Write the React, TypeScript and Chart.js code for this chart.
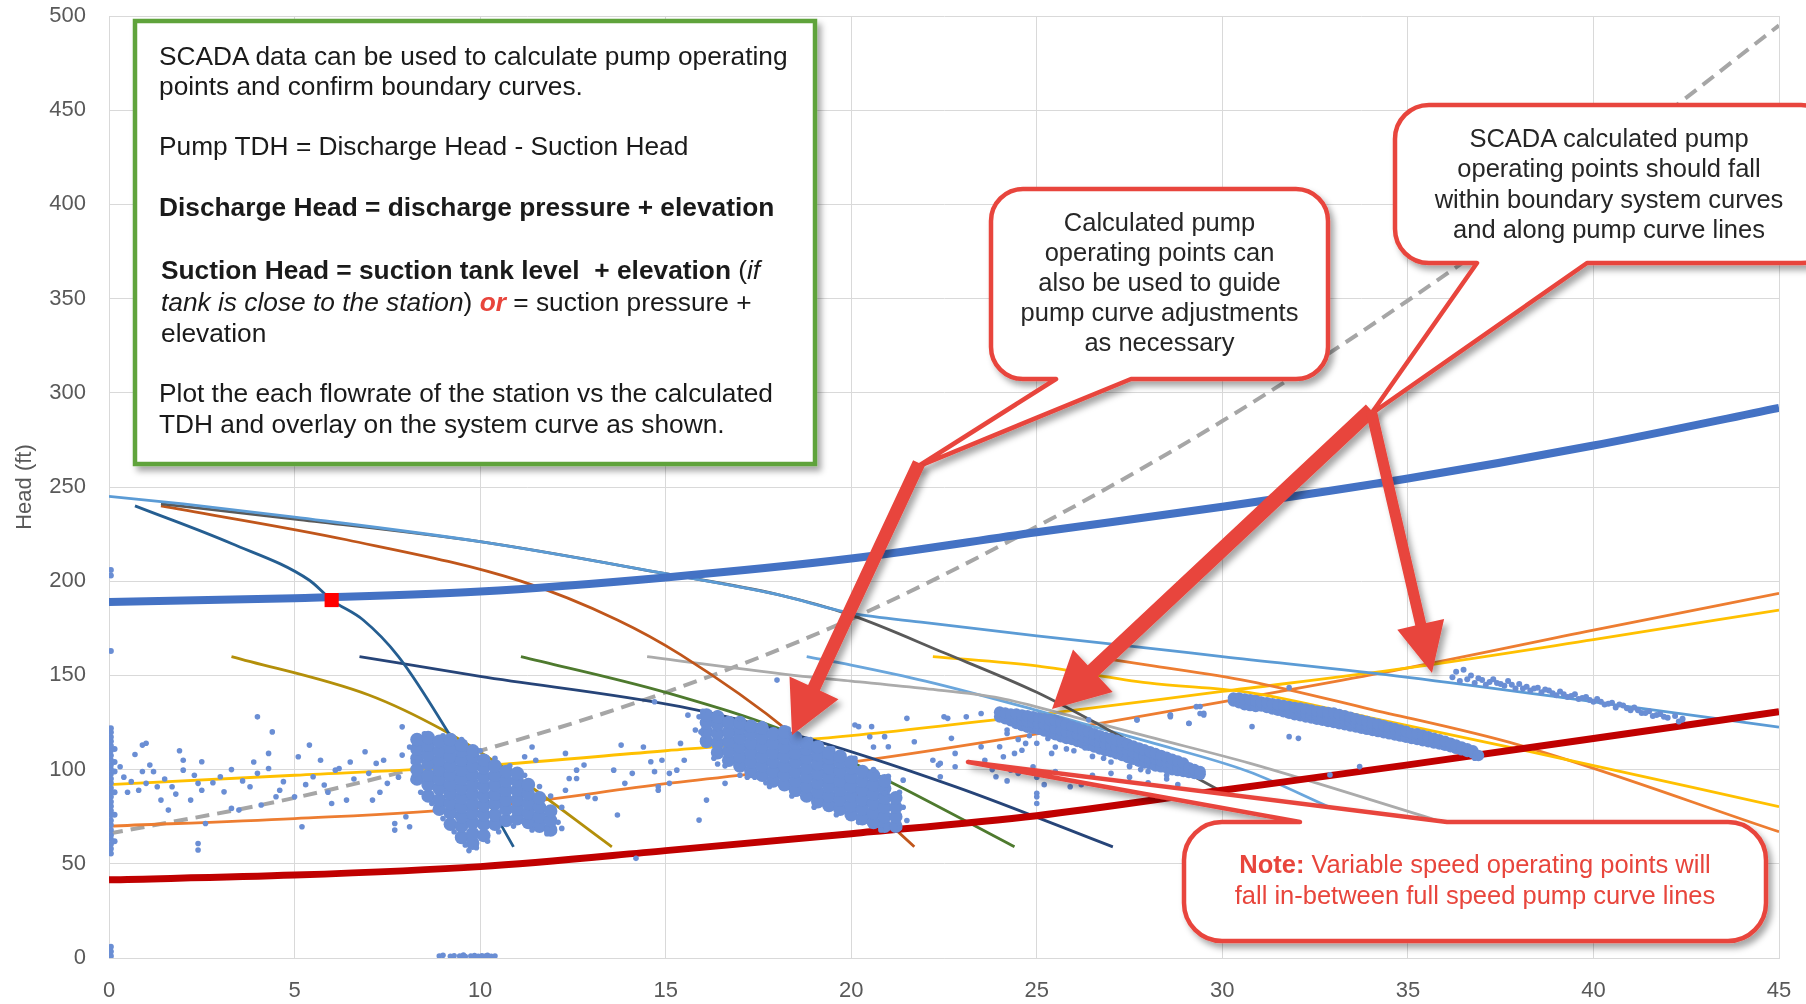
import React, { useEffect, useRef } from "react";
import { Chart, registerables } from "chart.js";

Chart.register(...registerables);

// ---- axes ----
const FLOW_MIN = 0;
const FLOW_MAX = 45;
const FLOW_STEP = 5;
const HEAD_MIN = 0;
const HEAD_MAX = 500;
const HEAD_STEP = 50;

// ---- system curves and rising references, sampled every 5 flow units ----
const flowSteps = [0, 5, 10, 15, 20, 25, 30, 35, 40, 45];
const maxSystemHead = [189, 191, 194.5, 202, 212, 226, 239.5, 254.5, 272, 292];
const minSystemHead = [41.5, 44, 48.5, 57, 66, 75.5, 89, 102.5, 116.5, 130.7];
const fullSpeedHead = [66, 85, 110, 141, 180, 229, 285, 349, 419, 495];
const yellowRisingHead = [92, 97, 102, 110, 118, 129, 141.5, 154, 169, 184.7];
const orangeRisingHead = [70, 74, 80, 92.5, 104, 119, 136, 154, 174, 193.6];

// ---- pump curves [flow, head] ----
const pumpLightBlue = [[0, 245], [2, 241], [5, 234], [10, 221], [15, 204], [18, 193], [20, 183], [22, 178], [25, 171], [28, 164.5], [30, 160], [35, 149], [40, 136], [45, 122.5]];
const pumpDarkGray = [[1.4, 241], [5, 233], [10, 221], [15, 204], [18, 193], [20, 182], [22.5, 162], [25, 141], [27.5, 115], [30.2, 86]];
const pumpSteelBlue = [[0.7, 240], [3.3, 220], [5.4, 200.5], [6.0, 190], [6.85, 179.4], [7.8, 160], [9.1, 121], [10.9, 59]];
const pumpRust = [[1.4, 240], [6.4, 222], [11.1, 200], [13.7, 179.4], [15.4, 161], [18.4, 119], [20, 90], [21.7, 59]];
const pumpOlive = [[3.3, 160], [7.0, 139.6], [9.0, 121], [10.6, 101.5], [13.55, 59]];
const pumpNavy = [[6.75, 160], [10, 149.5], [15.4, 133.4], [18.4, 119], [22.8, 91], [27.05, 59]];
const pumpGreen = [[11.1, 160], [15, 141], [18.4, 119], [21.3, 91], [24.4, 59]];
const pumpSilver = [[14.5, 160], [18.7, 149.5], [20, 147], [22, 143], [24, 138], [26, 128], [28, 117.5], [30.75, 103.3], [35.8, 73]];
const pumpSkyBlue = [[18.8, 160], [20, 155.5], [22, 147], [24.9, 132], [26.5, 123], [28, 114.8], [30.7, 99], [32.9, 80]];
const pumpYellowFalling = [[22.2, 160], [25, 155], [28, 146], [30.7, 141], [34, 127.5], [38.2, 110], [45, 80.3]];
const pumpOrangeFalling = [[26.8, 159], [28, 155.5], [30.7, 147], [34, 132], [38, 113], [45, 67]];

// ---- design operating point ----
const designPoint = [[6.0, 190]];

// ---- SCADA operating points ----
// zero-flow readings: [flow, head, head, ...]
const zeroFlowColumns = [
  [0.05, 55.5, 58, 60.4, 63, 65.2, 68, 70.6, 73, 75.8, 78.1, 80.5, 83, 85.6, 88, 90.2, 92.9, 95.1, 97.6, 100.2, 102.4, 105, 107.5, 110.1, 112.6, 115, 117.3, 119.8, 122, 163, 203, 206, 1, 3.5, 6],
  [0.15, 62, 76, 88, 99, 104, 111],
];
const noHeadPoints = [[8.9, 1], [9.0, 1.4], [9.2, 0.9], [9.3, 1.2], [9.45, 1], [9.55, 1.5], [9.6, 0.8], [9.75, 1.1], [9.85, 1.3], [9.95, 0.9], [10.05, 1.2], [10.15, 1], [10.2, 1.4], [10.3, 0.9], [10.4, 1.1]];
const scatteredPoints = [
  [0.9, 113], [1.0, 114], [0.7, 108], [0.3, 101.5], [0.6, 93.6], [0.8, 89], [1.0, 92.7], [1.1, 102.4], [1.2, 98.9], [1.3, 90.9], [1.4, 83.8], [1.6, 78.5], [1.7, 90.9], [2.0, 105], [2.0, 99.7], [2.2, 83.8], [2.4, 92.7], [2.5, 104.2], [2.5, 89], [2.4, 60.8], [2.4, 57.3], [2.6, 71.4], [3.0, 96.2], [3.1, 88.2], [3.3, 79.4], [3.5, 78.5], [3.8, 90.9], [4.0, 128], [4.1, 81.2], [4.3, 100.6], [4.3, 108.6], [4.4, 120], [4.5, 85.6], [4.7, 93.6], [5.0, 85.6], [5.1, 106.8], [5.2, 69.7], [5.4, 113], [5.5, 96.2], [5.7, 105], [5.8, 91.8], [6.0, 82], [6.1, 99.7], [6.2, 100.6], [6.4, 83.8], [6.9, 109.5], [7.1, 83.8], [7.2, 103.3], [7.4, 105], [7.5, 92.7], [7.7, 71.4], [7.7, 67.9], [7.9, 107.7], [7.9, 122.7], [8.0, 75], [8.1, 69.7], [8.2, 94.5],
  [0.4, 96], [0.5, 88], [0.9, 99], [1.5, 95], [1.8, 87], [2.3, 97], [2.8, 93], [3.3, 100], [3.6, 94], [4.0, 98], [4.6, 89], [5.3, 92], [5.9, 88], [6.6, 95], [7.0, 98], [7.3, 88], [7.8, 96], [6.5, 104], [3.9, 104], [1.9, 110],
  [11.2, 106.8], [11.5, 105], [11.4, 112], [12.3, 108.6], [12.4, 95.3], [12.6, 99.7], [12.8, 102.4], [12.9, 85.6], [13.1, 84.7], [13.6, 99.7], [13.8, 113], [14.2, 52.9], [14.4, 112], [14.6, 104.2], [14.7, 98.9], [14.8, 89], [15.1, 92.7], [15.3, 99.7], [12.2, 68.8], [12.3, 89], [12.6, 95.3], [13.7, 75.9], [13.9, 92.7], [14.1, 98],
  [14.7, 136], [15.6, 128.9], [15.4, 113.9], [14.9, 105], [14.8, 90.9], [15.1, 98], [15.5, 105], [15.8, 121], [16.1, 83.8], [16.4, 103], [16.6, 92.7], [17.0, 97], [17.4, 96], [17.7, 93], [18.0, 147.5], [15.9, 73.2], [20.2, 122.8], [20.5, 117.4], [20.6, 112], [20.9, 87.4], [21.4, 94.4], [21.7, 114.8], [22.2, 105], [22.4, 96.2], [22.5, 128], [22.8, 101.5], [23.1, 128], [23.5, 129.8], [23.6, 105], [23.9, 96.2], [24.1, 106.8], [24.4, 108.6], [24.7, 113.9], [24.9, 101.5], [25.0, 87.4], [25.0, 82], [25.4, 108.6], [25.9, 90.9], [26.4, 94.4], [27.0, 98], [27.5, 101.5], [27.7, 126.3], [28.0, 89], [28.6, 128.9], [29.1, 124.5], [29.4, 129.8], [29.3, 133.4], [30.3, 136.9], [30.5, 138.7],
  [21.5, 127.2], [22.6, 127.2], [26.4, 126.4], [27.7, 126.4], [28.6, 128.1], [29.5, 129.9], [20.9, 117.5], [21.0, 112.1], [22.35, 102.4], [22.7, 116.6], [22.8, 108.6], [23.5, 112.1], [24.0, 112.1], [24.2, 119.2], [25.0, 85.6], [24.3, 99.7], [24.6, 110.3], [20.1, 123.7], [20.55, 122.8], [22.4, 103.3],
  [23.8, 100], [24.2, 94], [24.5, 98], [25.0, 96], [25.2, 92], [25.5, 99], [26.0, 95], [26.2, 92], [26.5, 97], [27.0, 94], [27.2, 91], [27.5, 96], [28.0, 93], [28.5, 95], [28.8, 92],
  [30.8, 122.8], [31.8, 117.5], [32.05, 116.6], [32.9, 97.2], [33.7, 101.6], [36.8, 106], [28.6, 129], [29.1, 124.6], [29.5, 129], [29.4, 133.5], [31.8, 143.5], [42.4, 126.4],
  // ragged edges of the dense clouds
  [8.1, 112], [8.2, 104], [8.4, 88], [8.7, 82], [9.0, 74], [9.3, 67], [9.6, 60], [9.9, 58.5], [10.2, 62], [10.5, 67], [10.9, 70], [11.4, 68], [11.8, 66], [12.1, 72], [12.2, 80], [11.9, 86], [11.6, 91], [11.2, 97], [10.8, 102], [10.4, 106], [10.0, 110], [9.5, 116], [9.0, 118], [8.5, 119], [9.7, 57],
  [15.9, 128], [15.95, 120], [16.0, 116], [16.3, 106], [16.6, 102], [17.2, 96], [17.8, 91], [18.4, 86], [19.0, 80], [19.6, 76], [20.2, 72], [20.8, 68], [21.3, 69], [21.5, 73], [21.4, 80], [21.3, 88], [21.0, 96.5], [20.6, 100], [20.1, 106], [19.5, 111], [18.9, 116], [18.3, 121.5], [17.6, 124.5], [17.0, 127], [16.4, 130], [16.0, 131],
  [24.5, 116], [25.0, 114], [25.5, 112], [26.0, 110], [26.5, 107], [27.0, 104], [27.5, 102], [28.0, 99], [28.5, 97], [24.8, 118], [25.8, 111], [26.8, 106], [27.8, 100], [24.2, 121], [25.3, 116.5], [26.3, 111.5],
];
// dense clouds: [flow, head, head, ...]
const cloudNear10 = [
  [8.3, 95, 100, 106, 111, 116],
  [8.6, 86, 92, 97, 103, 108, 113, 117],
  [8.9, 79, 84, 90, 95, 100, 105, 110, 115],
  [9.2, 71, 77, 82, 87, 92, 97, 102, 107, 112, 116],
  [9.5, 64, 70, 75, 80, 85, 90, 95, 100, 105, 110, 113],
  [9.8, 61, 66, 72, 77, 82, 87, 92, 97, 102, 107, 110],
  [10.1, 65, 71, 76, 81, 86, 91, 96, 101, 105],
  [10.4, 71, 76, 82, 87, 92, 97, 102],
  [10.7, 73, 79, 84, 89, 94, 99],
  [11.0, 74, 79, 84, 89, 94, 98],
  [11.3, 72, 77, 82, 87, 92],
  [11.6, 70, 75, 80, 85],
  [11.9, 68, 73, 78],
];
const cloudNear18 = [
  [16.1, 115, 120, 125, 129],
  [16.4, 109, 114, 119, 124, 128],
  [16.7, 105, 110, 115, 120, 125],
  [17.0, 102, 107, 112, 117, 122, 125],
  [17.3, 99, 104, 109, 114, 119, 123],
  [17.6, 97, 102, 107, 112, 117, 122],
  [17.9, 94, 99, 104, 109, 114, 119],
  [18.2, 92, 97, 102, 107, 112, 117, 120],
  [18.5, 89, 94, 99, 104, 109, 114, 117],
  [18.8, 86, 91, 96, 101, 106, 111, 114],
  [19.1, 83, 88, 93, 98, 103, 108, 112],
  [19.4, 81, 86, 91, 96, 101, 106, 109],
  [19.7, 79, 84, 89, 94, 99, 104, 107],
  [20.0, 76, 81, 86, 91, 96, 101, 104],
  [20.3, 74, 79, 84, 89, 94, 99],
  [20.6, 72, 77, 82, 87, 92, 97],
  [20.9, 70, 75, 80, 85, 90, 94],
  [21.2, 70, 75, 80, 85],
];
const cloudNear27 = [
  [24.0, 128, 130.5], [24.15, 127, 130], [24.3, 126, 129.5], [24.45, 124.5, 127, 129.5],
  [24.6, 123.5, 126.5, 129], [24.75, 122.5, 125.5, 128.5], [24.9, 122, 125, 128], [25.05, 121.5, 124.5, 127.5],
  [25.2, 120.5, 124, 127], [25.35, 119.5, 123, 126.5], [25.5, 118.5, 122, 126], [25.65, 117.5, 121, 125],
  [25.8, 116.5, 120, 124], [25.95, 116, 119.5, 123], [26.1, 115, 118.5, 122], [26.25, 114, 117.5, 121],
  [26.4, 113, 116.5, 120], [26.55, 112, 115.5, 119], [26.7, 111, 114.5, 118], [26.85, 110, 113.5, 117],
  [27.0, 109.5, 113, 116.5], [27.15, 108.5, 112, 115.5], [27.3, 107.5, 111, 114.5], [27.45, 106.5, 110, 113.5],
  [27.6, 105.5, 109, 112.5], [27.75, 104.5, 108, 111.5], [27.9, 103.5, 107, 110.5], [28.05, 103, 106, 109.5],
  [28.2, 102, 105.5, 108.5], [28.35, 101.5, 104.5, 107.5], [28.5, 101, 104, 106.5], [28.65, 100, 103, 105.5],
  [28.8, 99.5, 102, 104.5], [28.95, 99, 101.5, 103.5], [29.1, 98.5, 101], [29.25, 98, 100], [29.4, 97.5, 99],
];
const cloudNear33 = [
  [30.3, 136.5, 138], [30.45, 135.5, 138], [30.6, 134.5, 137.5], [30.75, 134, 137], [30.9, 133.5, 136.5],
  [31.05, 133.8, 135.8], [31.2, 133, 135.5], [31.35, 132.2, 134.9], [31.5, 131.5, 134.5], [31.65, 130.7, 134],
  [31.8, 130, 133.5], [31.95, 129.2, 133], [32.1, 128.6, 130.7, 132.7], [32.25, 128, 130, 132.2],
  [32.4, 127.4, 129.5, 131.6], [32.55, 126.8, 129, 131], [32.7, 126.2, 128.5, 130.7], [32.85, 125.6, 128, 130.3],
  [33.0, 125, 127.5, 130], [33.15, 124.4, 126.8, 129.2], [33.3, 123.8, 126, 128.5], [33.45, 123.2, 125.5, 127.7],
  [33.6, 122.6, 124.8, 127], [33.75, 122, 124, 126.2], [33.9, 121.4, 123.5, 125.5], [34.05, 120.8, 122.8, 124.7],
  [34.2, 120.2, 122, 124], [34.35, 119.6, 121.5, 123.3], [34.5, 119, 122.5], [34.65, 118.4, 121.8],
  [34.8, 117.8, 121], [34.95, 117.2, 120.3], [35.1, 116.6, 119.2], [35.25, 116, 119], [35.4, 115.4, 118.2],
  [35.55, 114.8, 117.4], [35.7, 114.2, 116.6], [35.85, 113.6, 115.8], [36.0, 113, 115], [36.15, 112.2, 114],
  [36.3, 111.3, 113], [36.45, 110.5, 112], [36.6, 109.7, 111], [36.75, 108.8, 110], [36.9, 107.5],
];
const bandNear40 = [
  [36.2, 149], [36.3, 152], [36.4, 147], [36.5, 153], [36.6, 148], [36.7, 150], [36.8, 146], [37.0, 147.5], [37.1, 145], [37.3, 148], [37.4, 146], [37.6, 144.5], [37.7, 147], [37.9, 143], [38.0, 145.5], [38.2, 144], [38.3, 142], [38.5, 143.5], [38.6, 141], [38.8, 142], [39.0, 139.5], [39.1, 141.5], [39.3, 138.5], [39.5, 140], [39.6, 137.5], [39.8, 138.5], [40.0, 136], [40.1, 137.5], [40.3, 134.5], [40.5, 135.5], [40.6, 133], [40.8, 134], [41.0, 131.5], [41.1, 133], [41.3, 130], [41.5, 131], [41.6, 128.5], [41.8, 129.5], [42.0, 127.5], [42.2, 128.5], [42.3, 125.5], [42.4, 127],
  [36.9, 148.5], [37.2, 146.5], [37.5, 145.5], [37.8, 145], [38.1, 143], [38.4, 143], [38.7, 142.5], [38.9, 140.5], [39.2, 140], [39.4, 139], [39.7, 138], [39.9, 137], [40.2, 136], [40.4, 135], [40.7, 134.5], [40.9, 132.5], [41.2, 131.5], [41.4, 130], [41.7, 129], [41.9, 128],
];

const SCATTER_COLOR = "#6A8ED4";
const RED = "#E8453C";
const FONT = '"Liberation Sans", Arial, sans-serif';

const fromPairs = (pts: number[][]) => pts.map(([x, y]) => ({ x, y }));
const fromColumns = (cols: number[][]) =>
  cols.flatMap(([x, ...ys]) => ys.map((y) => ({ x, y })));
const fromSteps = (ys: number[]) => flowSteps.map((x, i) => ({ x, y: ys[i] }));

function curve(label: string, data: { x: number; y: number }[], color: string, width: number, order: number, extra: any = {}) {
  return {
    label,
    data,
    showLine: true,
    borderColor: color,
    backgroundColor: color,
    borderWidth: width,
    pointRadius: 0,
    cubicInterpolationMode: "monotone",
    order,
    ...extra,
  };
}

function dots(label: string, data: { x: number; y: number }[], radius: number) {
  return {
    label,
    data,
    showLine: false,
    pointRadius: radius,
    pointBorderWidth: 0,
    pointBackgroundColor: SCATTER_COLOR,
    backgroundColor: SCATTER_COLOR,
    order: 1,
  };
}

// ---- callout geometry (page pixels) ----
function bubblePath(x: number, y: number, w: number, h: number, r: number, side: "top" | "bottom", a: number, b: number, tx: number, ty: number) {
  const R = x + w, B = y + h;
  if (side === "bottom") {
    return `M${x + r},${y} H${R - r} A${r},${r} 0 0 1 ${R},${y + r} V${B - r} A${r},${r} 0 0 1 ${R - r},${B} H${b} L${tx},${ty} L${a},${B} H${x + r} A${r},${r} 0 0 1 ${x},${B - r} V${y + r} A${r},${r} 0 0 1 ${x + r},${y} Z`;
  }
  return `M${x + r},${y} H${a} L${tx},${ty} L${b},${y} H${R - r} A${r},${r} 0 0 1 ${R},${y + r} V${B - r} A${r},${r} 0 0 1 ${R - r},${B} H${x + r} A${r},${r} 0 0 1 ${x},${B - r} V${y + r} A${r},${r} 0 0 1 ${x + r},${y} Z`;
}

function arrowPolygon(x1: number, y1: number, x2: number, y2: number, shaft: number, headLen: number, headW: number) {
  const dx = x2 - x1, dy = y2 - y1, L = Math.hypot(dx, dy);
  const ux = dx / L, uy = dy / L, nx = -uy, ny = ux;
  const bx = x2 - ux * headLen, by = y2 - uy * headLen;
  const p = (px: number, py: number) => `${px.toFixed(1)},${py.toFixed(1)}`;
  return [
    p(x1 + (nx * shaft) / 2, y1 + (ny * shaft) / 2),
    p(bx + (nx * shaft) / 2, by + (ny * shaft) / 2),
    p(bx + (nx * headW) / 2, by + (ny * headW) / 2),
    p(x2, y2),
    p(bx - (nx * headW) / 2, by - (ny * headW) / 2),
    p(bx - (nx * shaft) / 2, by - (ny * shaft) / 2),
    p(x1 - (nx * shaft) / 2, y1 - (ny * shaft) / 2),
  ].join(" ");
}

export default function App() {
  const canvasRef = useRef<HTMLCanvasElement>(null);

  useEffect(() => {
    const canvas = canvasRef.current;
    if (!canvas) return;
    Chart.defaults.font.family = FONT;
    const chart = new Chart(canvas, {
      type: "scatter",
      data: {
        datasets: [
          {
            label: "Design point",
            data: fromPairs(designPoint),
            pointStyle: "rect",
            pointRadius: 10,
            pointBorderWidth: 0,
            pointBackgroundColor: "#FF0000",
            order: 0,
          },
          dots("Zero flow", fromColumns(zeroFlowColumns), 3),
          dots("No head", fromPairs(noHeadPoints), 2.8),
          dots("Scattered", fromPairs(scatteredPoints), 2.8),
          dots("Cloud 10", fromColumns(cloudNear10), 6.8),
          dots("Cloud 18", fromColumns(cloudNear18), 6.8),
          dots("Cloud 27", fromColumns(cloudNear27), 5.8),
          dots("Cloud 33", fromColumns(cloudNear33), 5.8),
          dots("Band 40", fromPairs(bandNear40), 3),
          curve("Max system curve", fromSteps(maxSystemHead), "#4472C4", 8, 2),
          curve("Min system curve", fromSteps(minSystemHead), "#C00000", 7, 2),
          curve("Pump light blue", fromPairs(pumpLightBlue), "#5B9BD5", 2.8, 3),
          curve("Pump dark gray", fromPairs(pumpDarkGray), "#595959", 2.8, 3),
          curve("Pump steel blue", fromPairs(pumpSteelBlue), "#255E91", 2.8, 3),
          curve("Pump rust", fromPairs(pumpRust), "#C0561B", 2.8, 3),
          curve("Pump olive", fromPairs(pumpOlive), "#B38F0A", 2.8, 3),
          curve("Pump navy", fromPairs(pumpNavy), "#264478", 2.8, 3),
          curve("Pump green", fromPairs(pumpGreen), "#4E7A2E", 2.8, 3),
          curve("Pump silver", fromPairs(pumpSilver), "#ABABAB", 2.8, 3),
          curve("Pump sky blue", fromPairs(pumpSkyBlue), "#6AA6DC", 2.8, 3),
          curve("Pump yellow", fromPairs(pumpYellowFalling), "#FFC000", 2.8, 3),
          curve("Pump orange", fromPairs(pumpOrangeFalling), "#ED7D31", 2.8, 3),
          curve("Yellow rising", fromSteps(yellowRisingHead), "#FFC000", 2.8, 3),
          curve("Orange rising", fromSteps(orangeRisingHead), "#ED7D31", 2.8, 3),
          curve("Full speed", fromSteps(fullSpeedHead), "#A6A6A6", 4, 4, { borderDash: [14, 8] }),
        ] as any,
      },
      options: {
        animation: false,
        responsive: false,
        devicePixelRatio: 1,
        layout: { padding: { top: 16, right: 27, bottom: 0, left: 0 } },
        plugins: { legend: { display: false }, tooltip: { enabled: false } },
        scales: {
          x: {
            type: "linear",
            min: FLOW_MIN,
            max: FLOW_MAX,
            ticks: { stepSize: FLOW_STEP, padding: 0, color: "#595959", font: { size: 22, family: FONT } },
            grid: { color: "#D9D9D9", drawTicks: true, tickLength: 20, tickColor: "rgba(0,0,0,0)", lineWidth: 1 },
            border: { color: "#D9D9D9" },
            afterFit: (s: any) => { s.height = 46; },
          },
          y: {
            type: "linear",
            min: HEAD_MIN,
            max: HEAD_MAX,
            ticks: { stepSize: HEAD_STEP, padding: 0, color: "#595959", font: { size: 22, family: FONT } },
            grid: { color: "#D9D9D9", drawTicks: true, tickLength: 23, tickColor: "rgba(0,0,0,0)", lineWidth: 1 },
            border: { color: "#D9D9D9" },
            title: { display: true, text: "Head (ft)", color: "#595959", font: { size: 22, family: FONT }, padding: { top: 12, bottom: 0 } },
            afterFit: (s: any) => { s.width = 109; },
          },
        },
      } as any,
    });
    return () => chart.destroy();
  }, []);

  const textBase: React.CSSProperties = {
    position: "absolute",
    fontFamily: FONT,
    whiteSpace: "nowrap",
  };

  return (
    <div style={{ position: "fixed", left: 0, top: 0, width: 1806, height: 1004, background: "#fff", overflow: "hidden" }}>
      <canvas ref={canvasRef} width={1806} height={1004} style={{ position: "absolute", left: 0, top: 0, width: 1806, height: 1004 }} />
      <svg width={1806} height={1004} style={{ position: "absolute", left: 0, top: 0 }}>
        <defs>
          <filter id="shadow" x="-10%" y="-10%" width="130%" height="140%">
            <feDropShadow dx="4" dy="5" stdDeviation="3" floodColor="#000" floodOpacity="0.35" />
          </filter>
        </defs>
        <rect x={135} y={21} width={680} height={443} fill="#fff" stroke="#5FA33A" strokeWidth={4.5} filter="url(#shadow)" />
        <path d={bubblePath(991, 189, 337, 190, 32, "bottom", 1056, 1131, 917, 467)} fill="#fff" stroke={RED} strokeWidth={4.5} strokeLinejoin="round" filter="url(#shadow)" />
        <path d={bubblePath(1395, 105, 440, 158, 34, "bottom", 1477, 1587, 1371, 414)} fill="#fff" stroke={RED} strokeWidth={4.5} strokeLinejoin="round" filter="url(#shadow)" />
        <path d={bubblePath(1184, 822, 582, 119, 38, "top", 1300, 1447, 968, 762)} fill="#fff" stroke={RED} strokeWidth={4.5} strokeLinejoin="round" filter="url(#shadow)" />
        <g fill={RED} filter="url(#shadow)">
          <polygon points={arrowPolygon(919, 463, 792, 735, 13, 52, 54)} />
          <polygon points={arrowPolygon(1371, 410, 1052, 709, 15, 56, 58)} />
          <polygon points={arrowPolygon(1371, 410, 1432, 673, 11, 50, 48)} />
        </g>
      </svg>

      {/* green explanation box */}
      <div style={{ ...textBase, left: 159, top: 41, fontSize: 26.3, lineHeight: "30px", color: "#1a1a1a" }}>
        SCADA data can be used to calculate pump operating<br />points and confirm boundary curves.
      </div>
      <div style={{ ...textBase, left: 159, top: 131, fontSize: 26.3, lineHeight: "30px", color: "#1a1a1a" }}>
        Pump TDH = Discharge Head - Suction Head
      </div>
      <div style={{ ...textBase, left: 159, top: 192, fontSize: 26.3, lineHeight: "30px", color: "#1a1a1a", fontWeight: "bold" }}>
        Discharge Head = discharge pressure + elevation
      </div>
      <div style={{ ...textBase, left: 161, top: 255, fontSize: 26.3, lineHeight: "31.5px", color: "#1a1a1a" }}>
        <b>Suction Head = suction tank level&nbsp; + elevation</b> (<i>if</i>
        <br />
        <i>tank is close to the station</i>) <b><i style={{ color: RED }}>or</i></b> = suction pressure +
        <br />
        elevation
      </div>
      <div style={{ ...textBase, left: 159, top: 378, fontSize: 26.3, lineHeight: "31px", color: "#1a1a1a" }}>
        Plot the each flowrate of the station vs the calculated<br />TDH and overlay on the system curve as shown.
      </div>

      {/* callout texts */}
      <div style={{ ...textBase, left: 991, top: 207, width: 337, textAlign: "center", fontSize: 25.5, lineHeight: "30px", color: "#262626" }}>
        Calculated pump<br />operating points can<br />also be used to guide<br />pump curve adjustments<br />as necessary
      </div>
      <div style={{ ...textBase, left: 1395, top: 123, width: 428, textAlign: "center", fontSize: 25.5, lineHeight: "30.3px", color: "#262626" }}>
        SCADA calculated pump<br />operating points should fall<br />within boundary system curves<br />and along pump curve lines
      </div>
      <div style={{ ...textBase, left: 1184, top: 849, width: 582, textAlign: "center", fontSize: 25.5, lineHeight: "31px", color: RED }}>
        <b>Note:</b> Variable speed operating points will<br />fall in-between full speed pump curve lines
      </div>
    </div>
  );
}
